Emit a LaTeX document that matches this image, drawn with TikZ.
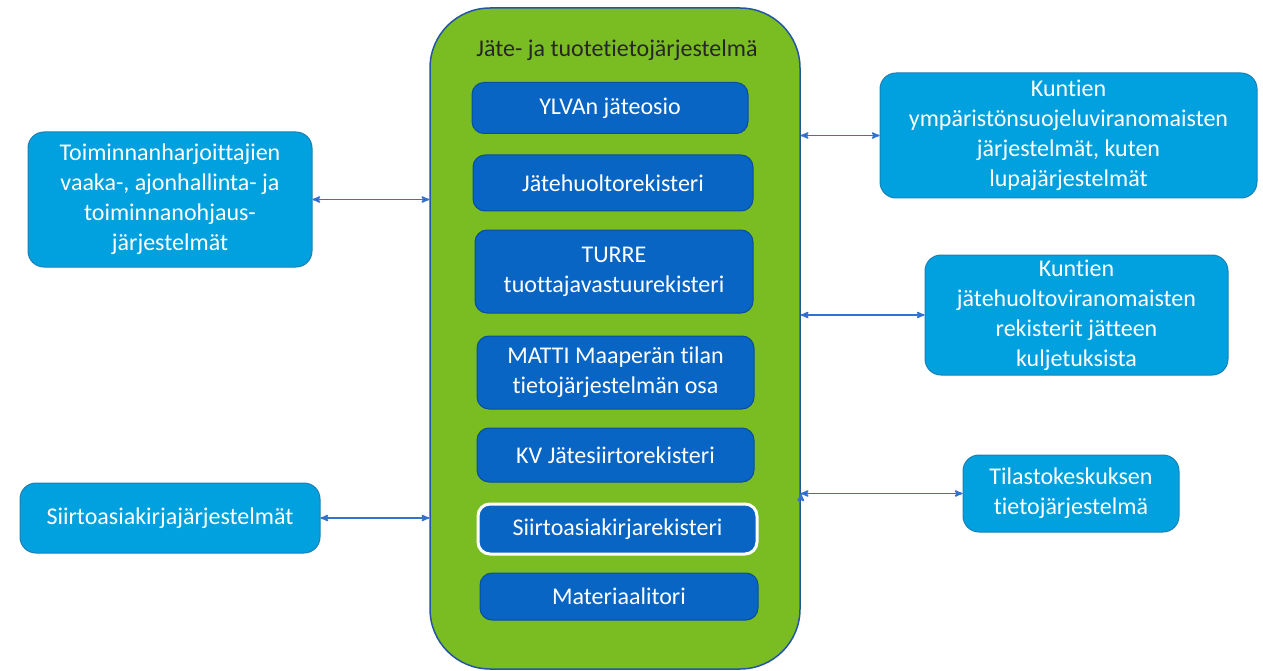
\documentclass[tikz,border=0pt]{standalone}
\usepackage{fontspec}
\setmainfont{Carlito}[Ligatures=NoCommon]
\usepackage{color}
\usepackage{tikz}
\usetikzlibrary{arrows}

\definecolor{sysgreen}{HTML}{79BD22}
\definecolor{sysedge}{HTML}{2455A4}
\definecolor{regblue}{HTML}{0865C3}
\definecolor{regedge}{HTML}{0B4E9C}
\definecolor{extblue}{HTML}{00A1DE}
\definecolor{extedge}{HTML}{1B7FB6}
\definecolor{linkblue}{HTML}{3472D2}

\begin{document}
\begin{tikzpicture}[<->,>=stealth',
                    semithick,
		    x=1pt,y=-1pt,
		    every node/.style={font=\fontsize{24}{30}\selectfont},
		    sys/.style={draw=sysedge,fill=sysgreen,line width=1.5pt,
		                rounded corners=60pt,inner sep=0pt},
		    reg/.style={draw=regedge,fill=regblue,text=white,line width=1pt,
		                rounded corners=12pt,inner sep=0pt},
		    ext/.style={draw=extedge,fill=extblue,text=white,line width=1pt,
		                rounded corners=16pt,inner sep=0pt},
		    link/.style={draw=linkblue,line width=1.6pt}]

\useasboundingbox (0,0) rectangle (1263,671);

\draw node[sys,minimum width=370pt,minimum height=661pt] (SYS) at (615,338.5) {}
      node[text=black!85] (TITLE) at (617,50) {Jäte- ja tuotetietojärjestelmä};

\draw node[reg,minimum width=276pt,minimum height=51pt] (YLVA) at (610,108)
            {YLVAn jäteosio}
      node[reg,minimum width=280pt,minimum height=56pt] (JHR) at (613,183)
            {Jätehuoltorekisteri}
      node[reg,minimum width=278pt,minimum height=83pt] (TURRE) at (614,271.5)
            {\begin{tabular}{c}TURRE\\
                               tuottajavastuurekisteri\end{tabular}}
      node[reg,minimum width=277pt,minimum height=73pt] (MATTI) at (615.5,372.5)
            {\begin{tabular}{c}MATTI Maaperän tilan\\
                               tietojärjestelmän osa\end{tabular}}
      node[reg,minimum width=277pt,minimum height=54pt] (KV) at (615.5,455)
            {KV Jätesiirtorekisteri}
      node[reg,draw=white,line width=3pt,minimum width=279pt,minimum height=50pt] (SAR) at (617.5,529)
            {Siirtoasiakirjarekisteri}
      node[reg,minimum width=278pt,minimum height=47pt] (MTORI) at (619,596.5)
            {Materiaalitori};

\draw node[ext,minimum width=284pt,minimum height=135pt] (TOIM) at (170,199.5)
            {\begin{tabular}{c}Toiminnanharjoittajien\\
                               vaaka-, ajonhallinta- ja\\
                               toiminnanohjaus-\\
                               järjestelmät\end{tabular}}
      node[ext,minimum width=300pt,minimum height=70pt] (SAJ) at (170,518)
            {Siirtoasiakirjajärjestelmät};

\draw node[ext,minimum width=377pt,minimum height=125pt] (YMP) at (1068.5,135.5)
            {\begin{tabular}{c}Kuntien\\
                               ympäristönsuojeluviranomaisten\\
                               järjestelmät, kuten\\
                               lupajärjestelmät\end{tabular}}
      node[ext,minimum width=303pt,minimum height=120pt] (JHV) at (1076.5,315)
            {\begin{tabular}{c}Kuntien\\
                               jätehuoltoviranomaisten\\
                               rekisterit jätteen\\
                               kuljetuksista\end{tabular}}
      node[ext,minimum width=216pt,minimum height=77pt] (TK) at (1071,493.5)
            {\begin{tabular}{c}Tilastokeskuksen\\
                               tietojärjestelmä\end{tabular}};

\path[link] (TOIM) edge (TOIM -| SYS.west)
            (SAJ) edge (SAJ -| SYS.west)
            (YMP -| SYS.east) edge (YMP)
            (JHV -| SYS.east) edge (JHV)
            (TK -| SYS.east) edge (TK);

\end{tikzpicture}
\end{document}
